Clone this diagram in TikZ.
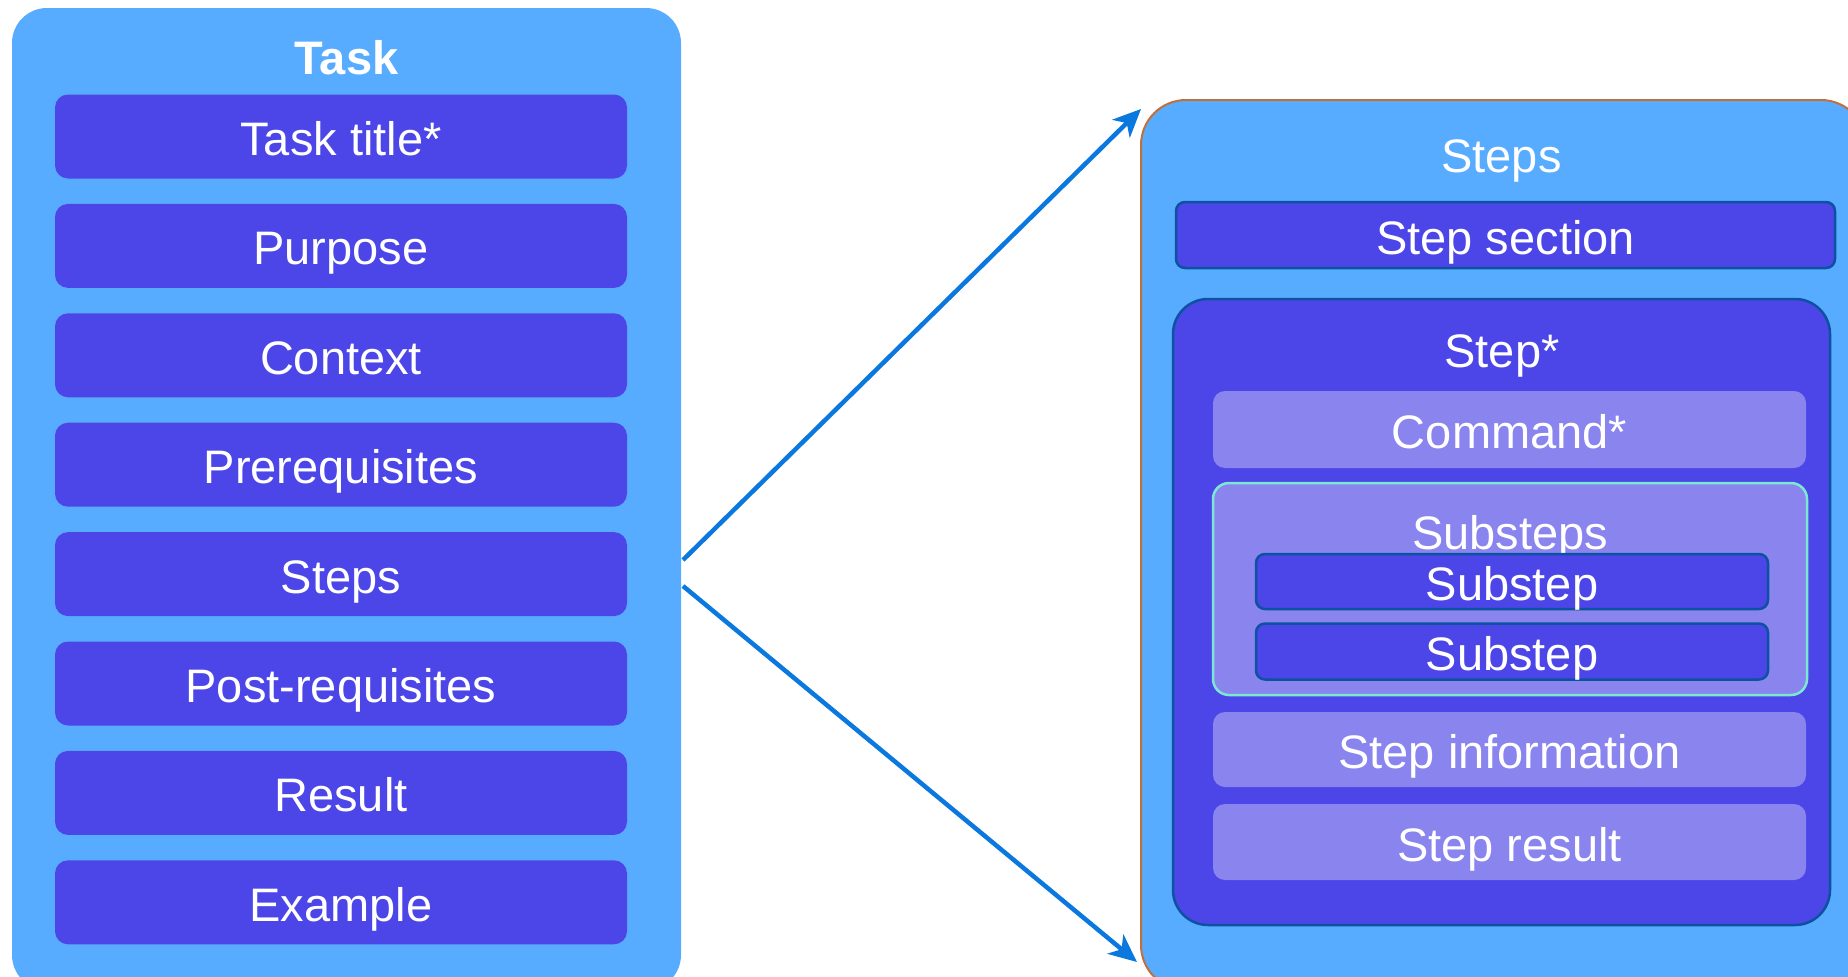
\documentclass[tikz,border=0pt]{standalone}
\usepackage{fontspec}
\setmainfont{Liberation Sans}
\usetikzlibrary{arrows.meta}

\definecolor{paneblue}{RGB}{88,172,255}
\definecolor{itemblue}{RGB}{76,70,232}
\definecolor{itemlight}{RGB}{138,132,238}
\definecolor{edgeblue}{RGB}{12,82,160}
\definecolor{edgeaqua}{RGB}{125,232,210}
\definecolor{edgebrown}{RGB}{192,112,60}
\definecolor{linkblue}{RGB}{10,120,222}

\tikzset{
  txt/.style={text=white, font=\fontsize{47}{56}\selectfont, inner sep=0pt, text height=38pt, text depth=0pt},
  pane/.style={fill=paneblue, rounded corners=35pt},
  itembox/.style={txt, fill=itemblue, rounded corners=13pt, minimum width=572pt, minimum height=84pt},
  framed/.style={txt, fill=itemblue, draw=edgeblue, line width=2.5pt},
  lightbox/.style={txt, fill=itemlight, rounded corners=12pt, minimum width=593pt},
  link/.style={draw=linkblue, line width=4.5pt, -{Stealth[length=28pt,width=25pt,inset=8pt]}},
}

\begin{document}
\begin{tikzpicture}[x=1pt, y=-1pt]
\useasboundingbox (0,0) rectangle (1848,977);
\clip (0,0) rectangle (1848,977);

% Task pane with its list of parts
\path[pane] (12,8) rectangle (681,990);
\node[txt, font=\fontsize{47}{56}\selectfont\bfseries] (task) at (346.5,55) {Task};
\foreach \lbl [count=\i] in {Task title*, Purpose, Context, Prerequisites, Steps, Post-requisites, Result, Example}
  \node[itembox] (row\i) at (341, {136.5+109.4*(\i-1)}) {\lbl};

% Steps pane
\path[pane, draw=edgebrown, line width=2pt, rounded corners=45pt] (1141,100) rectangle (1866,990);
\node[txt] (stepstitle) at (1501.5,153) {Steps};
\node[framed, rounded corners=9pt, minimum width=659pt, minimum height=66pt] (section) at (1505.5,235) {Step section};

% Step block
\node[framed, rounded corners=35pt, minimum width=657pt, minimum height=626pt] (stepbox) at (1501.5,612) {};
\node[txt] (steptitle) at (1502,348) {Step*};
\node[lightbox, minimum height=77pt] (command) at (1509.5,429.5) {Command*};

% Substeps group
\node[lightbox, draw=edgeaqua, line width=2.5pt, rounded corners=16pt, minimum width=594pt, minimum height=212pt] (subgroup) at (1510,589) {};
\node[txt] (subtitle) at (1510,530) {Substeps};
\node[framed, rounded corners=9pt, minimum width=512pt, minimum height=55pt] (sub1) at (1512,581.5) {Substep};
\node[framed, rounded corners=9pt, minimum width=512pt, minimum height=56pt] (sub2) at (1512,651.5) {Substep};

\node[lightbox, minimum height=75pt] (info) at (1509.5,749.5) {Step information};
\node[lightbox, minimum height=76pt] (result) at (1509.5,842) {Step result};

% Links from the Steps row to the Steps pane
\coordinate (linkA) at (683,560);
\coordinate (linkB) at (683,586);
\coordinate (paneTop) at (1141,109);
\coordinate (paneBottom) at (1137,962);
\draw[link] (linkA) -- (paneTop);
\draw[link] (linkB) -- (paneBottom);
\end{tikzpicture}
\end{document}
